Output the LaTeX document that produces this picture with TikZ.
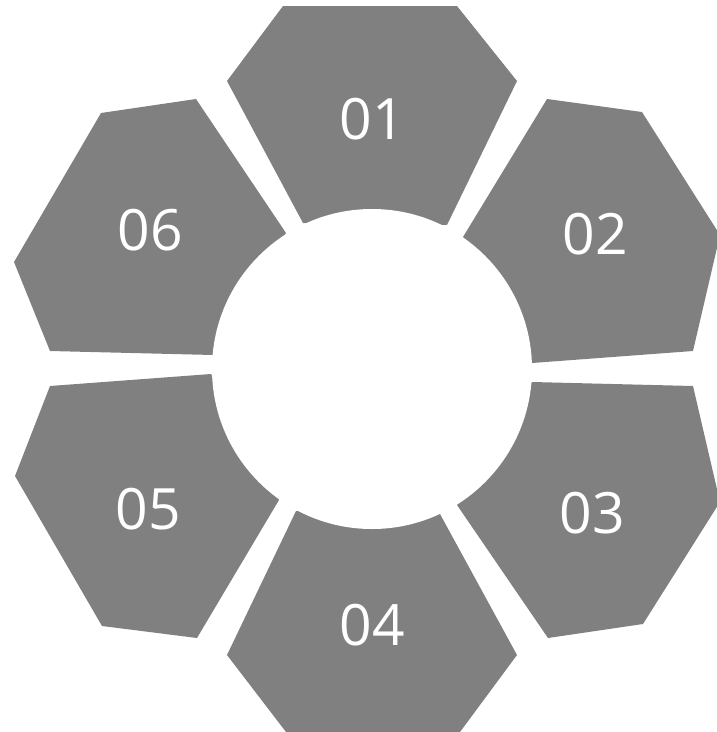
\documentclass[tikz,border=0pt]{standalone}
\usepackage{fontspec}
\setmainfont{Open Sans}
\begin{document}
\begin{tikzpicture}[x=1pt,y=-1pt,
  petal/.style={fill=petalgray,draw=none},
  lbl/.style={text=white,inner sep=0pt,font=\fontsize{57}{60}\selectfont}]
\definecolor{petalgray}{RGB}{128,128,128}
\useasboundingbox (0,0) rectangle (717,732);
\clip (0,0) rectangle (717,732);
% petals
\fill[petal] (283,6) -- (457,6) -- (517,81) -- (447,225) -- (303,223) -- (227,81) -- cycle;
\fill[petal] (547,99) -- (642,112) -- (720,235) -- (693,351) -- (532,363) -- (463,237) -- cycle;
\fill[petal] (532,382) -- (693,386) -- (720,502) -- (643,624) -- (548,638) -- (457,505) -- cycle;
\fill[petal] (296,511) -- (440,514) -- (517,655) -- (460,732) -- (286,732) -- (227,655) -- cycle;
\fill[petal] (211,374) -- (50,386) -- (15,476) -- (102,626) -- (197,638) -- (279,500) -- cycle;
\fill[petal] (101,113) -- (196,99) -- (286,233) -- (213,355) -- (50,351) -- (14,262) -- cycle;
% center hole
\fill[white] (372,369) circle[radius=160];
% labels
\node[lbl] (l1) at (372,119) {01};
\node[lbl] (l2) at (595,234) {02};
\node[lbl] (l3) at (592,513) {03};
\node[lbl] (l4) at (372,625) {04};
\node[lbl] (l5) at (148,509) {05};
\node[lbl] (l6) at (150,230) {06};
\end{tikzpicture}
\end{document}
